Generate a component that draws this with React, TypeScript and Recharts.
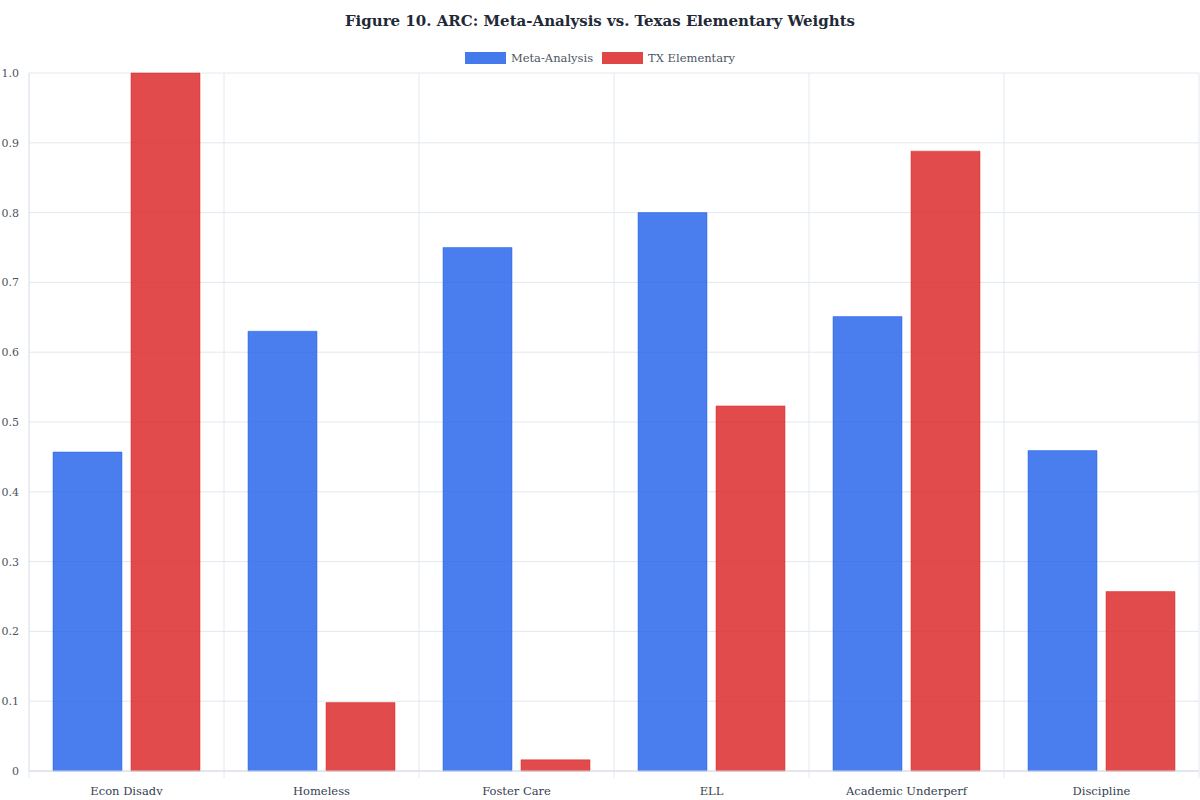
import React from 'react';
import { BarChart, Bar, XAxis, YAxis, CartesianGrid } from 'recharts';

const CATEGORIES = ['Econ Disadv', 'Homeless', 'Foster Care', 'ELL', 'Academic Underperf', 'Discipline'];
const META_ANALYSIS = [0.457, 0.630, 0.750, 0.800, 0.651, 0.459];
const TX_ELEMENTARY = [1.0, 0.098, 0.016, 0.523, 0.888, 0.257];
const Y_TICKS = [0, 0.1, 0.2, 0.3, 0.4, 0.5, 0.6, 0.7, 0.8, 0.9, 1.0];

const SERIES = [
    { key: 'meta', name: 'Meta-Analysis', color: '#2563EB' },
    { key: 'tx', name: 'TX Elementary', color: '#DC2626' },
];

const FONT = '"Palatino Linotype", "Book Antiqua", Palatino, "DejaVu Serif", serif';
const WIDTH = 1200;
const HEIGHT = 800;
const MARGIN = { top: 73, right: 1, left: 0, bottom: 0 };
const Y_AXIS_WIDTH = 29;
const BAND = (WIDTH - MARGIN.left - MARGIN.right - Y_AXIS_WIDTH) / CATEGORIES.length;

const data = CATEGORIES.map((name, i) => ({ name, meta: META_ANALYSIS[i], tx: TX_ELEMENTARY[i] }));

// category labels plus the little boundary ticks under the axis
const XTick = (props: any) => {
    const { x, y, payload, index } = props;
    const isLast = index === CATEGORIES.length - 1;
    return (
        <g>
            <line x1={x - BAND / 2} x2={x - BAND / 2} y1={y} y2={y + 7} stroke="#e2e8f0" />
            {isLast && <line x1={x + BAND / 2} x2={x + BAND / 2} y1={y} y2={y + 7} stroke="#e2e8f0" />}
            <text x={x} y={y + 24} textAnchor="middle" fill="#374151" fontSize={11.5} fontFamily={FONT}>
                {payload.value}
            </text>
        </g>
    );
};

const App: React.FC = () => {
    return (
        <div style={{ position: 'relative', width: WIDTH, height: HEIGHT, background: '#fff', fontFamily: FONT }}>
            <style>{'body{margin:0}'}</style>
            <div style={{ position: 'absolute', top: 12, left: 0, width: WIDTH, textAlign: 'center', fontSize: 15, fontWeight: 'bold', color: '#1f2937' }}>
                Figure 10. ARC: Meta-Analysis vs. Texas Elementary Weights
            </div>
            <div style={{ position: 'absolute', top: 51, left: 0, width: WIDTH, display: 'flex', justifyContent: 'center', gap: 9, fontSize: 11.5, color: '#4b5563' }}>
                {SERIES.map(s => (
                    <div key={s.key} style={{ display: 'flex', alignItems: 'center' }}>
                        <span style={{ display: 'inline-block', width: 41, height: 12, background: s.color, opacity: 0.85, border: `1px solid ${s.color}`, marginRight: 5, boxSizing: 'border-box' }} />
                        <span>{s.name}</span>
                    </div>
                ))}
            </div>
            <div style={{ position: 'absolute', top: 0, left: 0 }}>
                <BarChart width={WIDTH} height={HEIGHT} data={data} margin={MARGIN} barCategoryGap={24} barGap={9}>
                    <CartesianGrid
                        stroke="#e2e8f0"
                        verticalCoordinatesGenerator={(p: any) => {
                            const off = p && p.offset;
                            const left = off ? off.left : MARGIN.left + Y_AXIS_WIDTH;
                            const w = off ? off.width : BAND * CATEGORIES.length;
                            return CATEGORIES.map((_c, i) => left + (i * w) / CATEGORIES.length).concat([left + w]);
                        }}
                    />
                    <XAxis
                        dataKey="name"
                        height={29}
                        axisLine={{ stroke: '#d6dbe3' }}
                        tickLine={false}
                        tickSize={0}
                        tickMargin={0}
                        interval={0}
                        tick={<XTick />}
                    />
                    <YAxis
                        width={Y_AXIS_WIDTH}
                        domain={[0, 1]}
                        ticks={Y_TICKS}
                        interval={0}
                        axisLine={{ stroke: '#e2e8f0' }}
                        tickLine={false}
                        tickSize={0}
                        tickMargin={10}
                        tickFormatter={(v: number) => (v === 0 ? '0' : v.toFixed(1))}
                        tick={{ fill: '#4b5563', fontSize: 11, fontFamily: FONT }}
                    />
                    {SERIES.map(s => (
                        <Bar
                            key={s.key}
                            dataKey={s.key}
                            name={s.name}
                            fill={s.color}
                            fillOpacity={0.83}
                            stroke={s.color}
                            strokeOpacity={0.5}
                            strokeWidth={1}
                            isAnimationActive={false}
                        />
                    ))}
                </BarChart>
            </div>
        </div>
    );
};

export default App;
